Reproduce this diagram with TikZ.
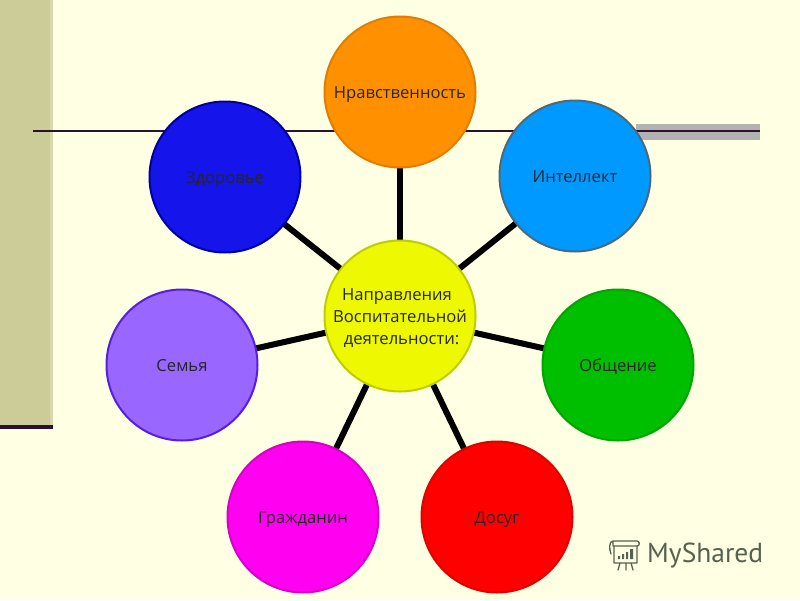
\documentclass[tikz,border=0pt]{standalone}
\usepackage{fontspec}
\setmainfont{Open Sans}
\newfontfamily\logofont{PT Sans}
\definecolor{bgc}{HTML}{FFFFE3}
\definecolor{sidec}{HTML}{CCCC99}
\definecolor{sidee}{HTML}{D8D8AC}
\definecolor{barc}{HTML}{B2B2B2}
\definecolor{rulec}{HTML}{2E0F2E}
\definecolor{logoc}{HTML}{56614F}
\definecolor{orF}{RGB}{255,145,0}\definecolor{orD}{RGB}{225,125,0}
\definecolor{blF}{RGB}{0,153,255}\definecolor{blD}{RGB}{75,105,125}
\definecolor{grF}{RGB}{0,190,0}\definecolor{grD}{RGB}{0,165,0}
\definecolor{reF}{RGB}{255,0,0}\definecolor{reD}{RGB}{225,0,0}
\definecolor{maF}{RGB}{255,0,240}\definecolor{maD}{RGB}{215,0,200}
\definecolor{viF}{RGB}{153,102,255}\definecolor{viD}{RGB}{85,30,225}
\definecolor{inF}{RGB}{20,20,235}\definecolor{inD}{RGB}{0,0,160}
\definecolor{yeF}{RGB}{238,248,0}\definecolor{yeD}{RGB}{190,205,0}
\pgfdeclarelayer{back}
\pgfdeclarelayer{spokes}
\pgfsetlayers{back,spokes,main}
\tikzset{
  x=1pt,y=-1pt,
  bubble/.style n args={2}{circle,draw=#1,fill=#2,line width=2pt,minimum size=151pt,inner sep=0pt,outer sep=0pt,text height=16pt,text depth=4pt,font=\fontsize{16.6}{22}\selectfont,text=black!85},
  spoke/.style={line width=6pt,draw=black},
  hrule/.style={line width=2pt,draw=rulec},
  logoline/.style={draw=logoc,line width=1.3pt,line cap=round,line join=round}
}
\begin{document}
\begin{tikzpicture}
\useasboundingbox (0,0) rectangle (800,600);
\begin{pgfonlayer}{back}
\fill[bgc] (0,0) rectangle (800,600);
\fill[sidec] (0,0) rectangle (50,427);
\fill[sidee] (50,0) rectangle (53,427);
\fill[barc] (636,124) rectangle (760,140);
\coordinate (ruleL) at (33,131);
\coordinate (ruleR) at (760,131);
\draw[hrule] (ruleL) -- (ruleR);
\coordinate (sideL) at (0,427);
\coordinate (sideR) at (53,427);
\draw[rulec,line width=3.5pt] (sideL) -- (sideR);
\end{pgfonlayer}
\node[bubble={orD}{orF}] (nr) at (400,92) {Нравственность};
\node[bubble={blD}{blF}] (in) at (575,176) {Интеллект};
\node[bubble={grD}{grF}] (ob) at (618,365) {Общение};
\node[bubble={reD}{reF}] (do) at (497,517) {Досуг};
\node[bubble={maD}{maF}] (gr) at (303,517) {Гражданин};
\node[bubble={viD}{viF}] (se) at (182,365) {Семья};
\node[bubble={inD}{inF}] (zd) at (225,177) {Здоровье};
\node[bubble={yeD}{yeF},align=center,text height=56pt,text depth=0pt] (ce) at (400,316)
  {Направления\hspace*{6pt}\\Воспитательной\\\hspace*{3pt}деятельности:};
\begin{pgfonlayer}{spokes}
\foreach \n in {nr,in,ob,do,gr,se,zd}
  \draw[spoke] (ce.center) -- (\n.center);
\end{pgfonlayer}
% logo
\draw[logoline] (613,541) -- (637,541) (613,541) .. controls (609,541) and (609,549) .. (611,554) (613,541) -- (613,546)
  (637,541) .. controls (640,541) and (640,546) .. (637,546) -- (613,546)
  (614,546) -- (614,563) -- (637,563) -- (637,546)
  (620,563) -- (618,570) (626,563) -- (626,570) (631,563) -- (633,570);
\fill[logoc] (618,556) rectangle (620,559) (622,554) rectangle (624,559) (626,552) rectangle (628,559) (630,549) rectangle (633,559);
\node[anchor=west,inner sep=0pt,text=logoc,font=\logofont\fontsize{27.5}{30}\selectfont] (logo) at (647,556) {MyShared};
\end{tikzpicture}
\end{document}
